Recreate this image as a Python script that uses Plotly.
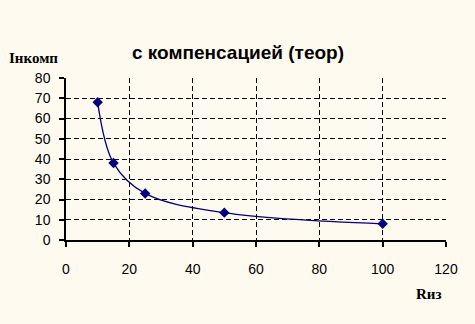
import plotly.graph_objects as go

r_iz = [10, 15, 25, 50, 100]
i_komp = [68, 38, 23, 13.5, 8]

title_text = "с компенсацией (теор)"
x_title = "Rиз"
y_title = "Iнкомп"

bg = "#FFFAF0"
navy = "#000080"

fig = go.Figure()
fig.add_trace(go.Scatter(
    x=r_iz, y=i_komp, mode="lines+markers",
    line=dict(color=navy, width=1.3, shape="spline", smoothing=1),
    marker=dict(symbol="diamond", size=8, color=navy),
    showlegend=False, hoverinfo="skip",
))

axis_common = dict(
    showline=True, linecolor="black", linewidth=1.5,
    ticks="outside", ticklen=5, tickcolor="black", tickwidth=1.5,
    showgrid=True, gridcolor="black", griddash="5px,3px", gridwidth=1.2,
    zeroline=False,
    tickfont=dict(family="Liberation Sans, Arial, sans-serif", size=14, color="black"),
)

fig.update_layout(
    width=475, height=324,
    paper_bgcolor=bg, plot_bgcolor=bg,
    margin=dict(l=66, r=29, t=78, b=84),
    title=dict(text="<b>" + title_text + "</b>", x=238 / 475, xref="container", xanchor="center",
               y=1, yref="container", yanchor="top", pad=dict(t=46),
               font=dict(family="Liberation Sans, Arial, sans-serif", size=19, color="black")),
    xaxis=dict(range=[0, 120], dtick=20, tick0=0, ticklabelstandoff=10, **axis_common),
    yaxis=dict(range=[0, 80], dtick=10, tick0=0, ticklabelstandoff=6, **axis_common),
    annotations=[
        dict(text="<b>" + y_title + "</b>", x=7, y=58, xref="paper", yref="paper",
             showarrow=False, xanchor="left", yanchor="middle",
             font=dict(family="Liberation Serif, Times New Roman, serif", size=15, color="black")),
        dict(text="<b>" + x_title + "</b>", x=444, y=294, xref="paper", yref="paper",
             showarrow=False, xanchor="right", yanchor="middle",
             font=dict(family="Liberation Serif, Times New Roman, serif", size=15, color="black")),
    ],
)

# convert pixel annotation positions to paper coordinates
pw = 475 - 66 - 29
ph = 324 - 78 - 84
for a in fig.layout.annotations:
    px, py = a.x, a.y
    a.x = (px - 66) / pw
    a.y = (324 - 84 - py) / ph

fig.write_html("out.html")
